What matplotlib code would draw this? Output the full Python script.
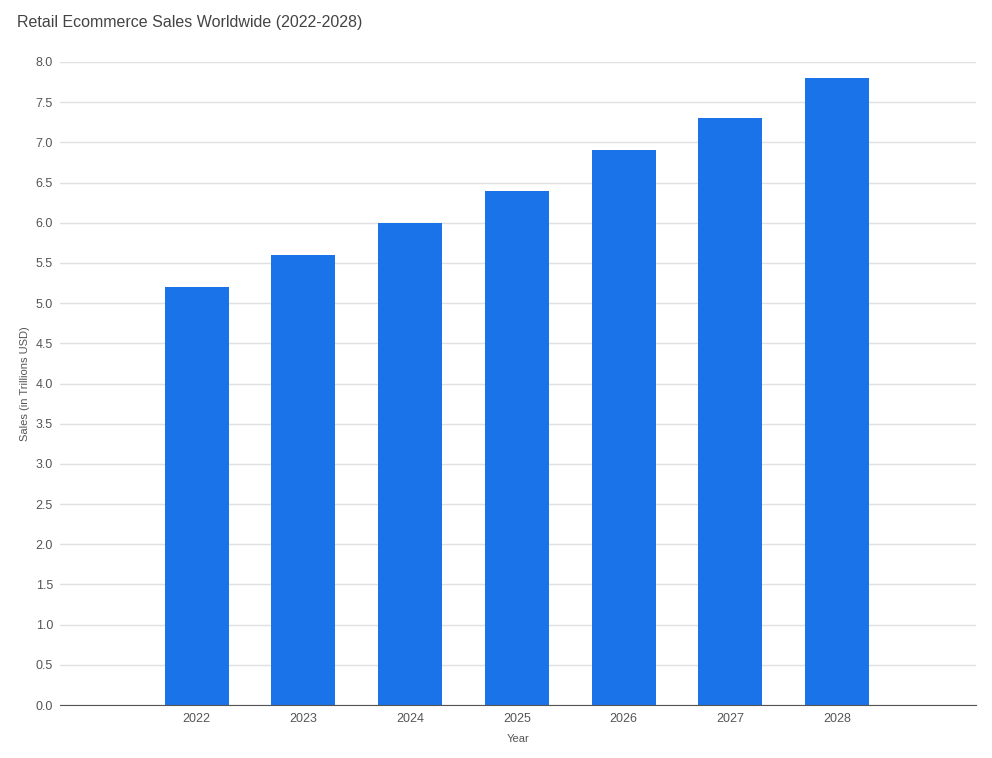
import numpy as np
import matplotlib.pyplot as plt

# --- data ---
years = ['2022', '2023', '2024', '2025', '2026', '2027', '2028']
sales = [5.2, 5.6, 6.0, 6.4, 6.9, 7.3, 7.8]

plt.rcParams['font.family'] = ['Liberation Sans', 'DejaVu Sans']

W, H = 992, 758
fig = plt.figure(figsize=(W / 100, H / 100), dpi=100)
ax = fig.add_axes([60 / W, (H - 705) / H, (976 - 60) / W, (705 - 62) / H])

x = np.arange(len(years))
ax.bar(x, sales, width=0.6, color='#1a73e8', zorder=3)

ax.set_xlim(-1.28, len(years) - 1 + 1.3)
ax.set_ylim(0, 8.0)
yt = np.arange(0, 8.01, 0.5)
ax.set_yticks(yt)
ax.set_yticklabels([f'{v:.1f}' for v in yt])
ax.set_xticks(x)
ax.set_xticklabels(years)

ax.grid(axis='y', color='#e0e0e0', linewidth=1, zorder=0)
for s in ['top', 'right', 'left']:
    ax.spines[s].set_visible(False)
ax.spines['bottom'].set_color('#555555')
ax.spines['bottom'].set_zorder(4)
ax.tick_params(axis='both', length=0, labelsize=9, colors='#555555')
ax.tick_params(axis='x', pad=6)
ax.tick_params(axis='y', pad=5)

ax.set_xlabel('Year', fontsize=8, color='#555555', labelpad=6)
ax.set_ylabel('Sales (in Trillions USD)', fontsize=8, color='#555555', labelpad=4)

fig.text(17 / W, 1 - 22 / H, 'Retail Ecommerce Sales Worldwide (2022-2028)',
         fontsize=11.5, color='#444444', va='center', ha='left')

fig.savefig('out.png', dpi=100)
